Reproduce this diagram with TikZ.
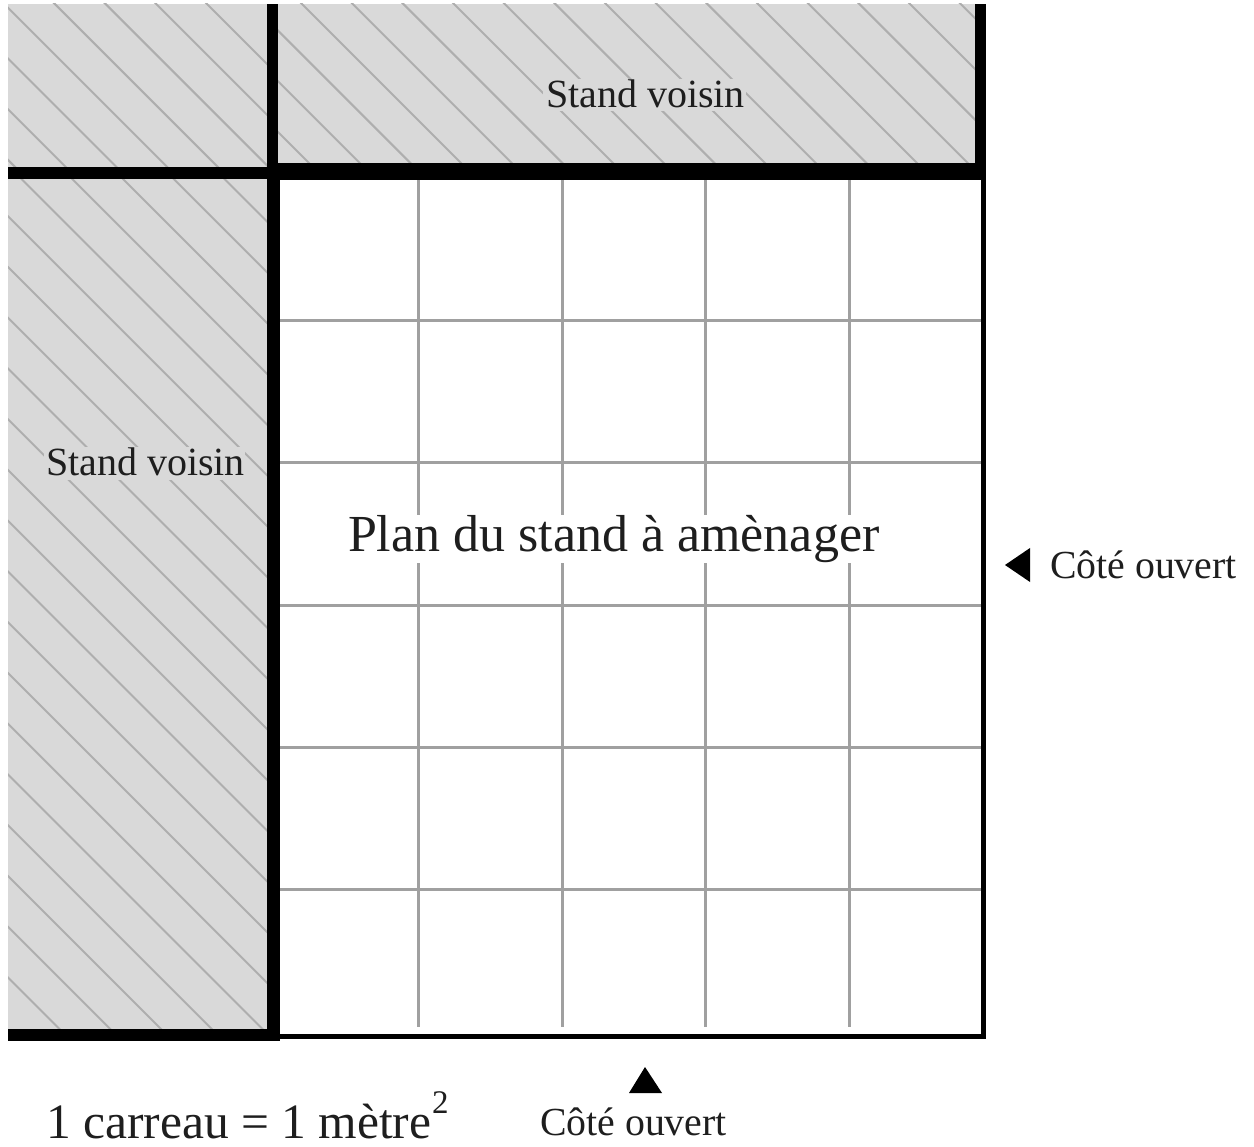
\documentclass[tikz,border=0pt]{standalone}
\usepackage{fontspec}
\setmainfont{Liberation Serif}
\definecolor{panel}{HTML}{D9D9D9}
\definecolor{hatchc}{HTML}{AEAEAE}
\definecolor{gridc}{HTML}{A0A0A0}
\definecolor{ink}{HTML}{1E1E1E}
\newcommand{\fs}[1]{\fontsize{#1}{#1}\selectfont}
\tikzset{
  hatchline/.style={draw=hatchc,line width=2pt},
  gridline/.style={draw=gridc,line width=3pt},
  label/.style={anchor=base west,inner sep=0pt,outer sep=0pt,text=ink},
}
\begin{document}
\begin{tikzpicture}[x=1pt,y=-1pt]
\useasboundingbox (0,0) rectangle (1254,1147);
\fill[white] (0,0) rectangle (1254,1147);
% shaded neighbouring stands
\fill[panel] (8,4) rectangle (270,172);
\fill[panel] (272,4) rectangle (980,170);
\fill[panel] (8,174) rectangle (272,1034);
% hatching
\begin{scope}
\clip (8,4) rectangle (267,167);
\foreach \k in {0,...,7}{\pgfmathsetmacro{\c}{203-50.7*\k}
  \draw[hatchline] ({\c+0},0) -- ({\c+300},300);}
\end{scope}
\begin{scope}
\clip (278,4) rectangle (975,163);
\foreach \k in {-13,...,3}{\pgfmathsetmacro{\c}{298-50.67*\k}
  \draw[hatchline] ({\c+0},0) -- ({\c+300},300);}
\end{scope}
\begin{scope}
\clip (8,179) rectangle (267,1028);
\foreach \k in {0,...,20}{\pgfmathsetmacro{\c}{45.5-50.75*\k}
  \draw[hatchline] ({\c+100},100) -- ({\c+1100},1100);}
\end{scope}
% metre grid
\foreach \x in {418,562,705,849}{\draw[gridline] (\x,180) -- (\x,1027);}
\foreach \y in {321,463,605,747,889}{\draw[gridline] (279,\y) -- (981,\y);}
% walls
\fill[black] (267,4) rectangle (278,180);
\fill[black] (267,179) rectangle (279.5,1041);
\fill[black] (8,167) rectangle (278,179);
\fill[black] (278,163) rectangle (985,180);
\fill[black] (975,4) rectangle (985.5,176);
\fill[black] (980.5,176) rectangle (985.5,1039);
\fill[black] (8,1028.5) rectangle (279.5,1041);
\fill[black] (279,1033.5) rectangle (985.5,1039);
% knock-out bands behind texts
\fill[panel] (543,79) rectangle (746,111);
\fill[panel] (44,447) rectangle (245,480);
\fill[white] (340,515) rectangle (886,563);
% texts
\node[label] (voisinhaut) at (546,108) {\fs{40}Stand voisin};
\node[label] (voisingauche) at (46,476) {\fs{40}Stand voisin};
\node[label] (plan) at (348,551) {\fs{52}Plan du stand à amènager};
\node[label] (coteD) at (1050,578) {\fs{39.8}Côté ouvert};
\node[label] (coteB) at (540,1135) {\fs{39.8}Côté ouvert};
\node[label] (echelle) at (46,1138) {\fs{49.5}1 carreau = 1 mètre};
\node[label] (carre) at (432,1113) {\fs{33}2};
% open-side markers
\fill[black] (1005,565) -- (1030,548) -- (1030,582) -- cycle;
\fill[black] (645,1067) -- (629,1093) -- (662,1093) -- cycle;
\end{tikzpicture}
\end{document}
